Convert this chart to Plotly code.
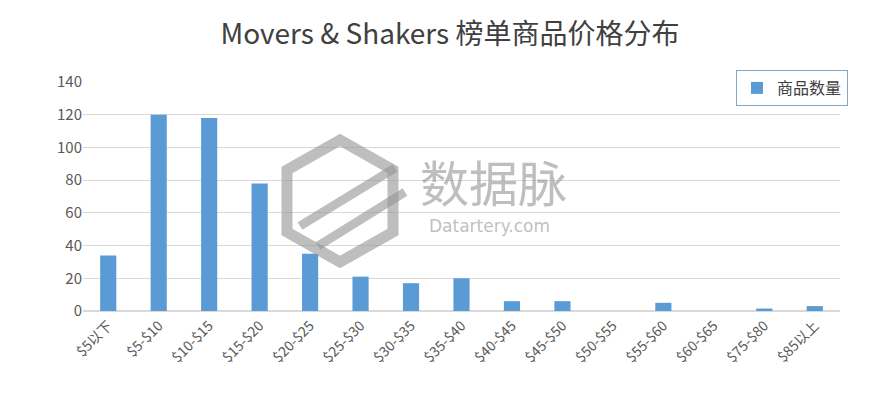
import plotly.graph_objects as go

categories = ["$5以下", "$5-$10", "$10-$15", "$15-$20", "$20-$25", "$25-$30", "$30-$35",
              "$35-$40", "$40-$45", "$45-$50", "$50-$55", "$55-$60", "$60-$65", "$75-$80", "$85以上"]
counts = [34, 120, 118, 78, 35, 21, 17, 20, 6, 6, 0, 5, 0, 1.5, 3]
series_name = "商品数量"
title_text = "Movers & Shakers 榜单商品价格分布"
y_ticks = [0, 20, 40, 60, 80, 100, 120, 140]

FONT = "Noto Sans CJK SC, Noto Sans, sans-serif"
WM = "rgba(150,150,150,0.62)"

# page body has an 8px offset; plot area intended at x 83..840, y 82..311 (window px)
L, T, R, B = 75, 74, 38, 97
PX0, PX1, PY0, PY1 = 83, 840, 82, 311


def px(x):
    return (x - PX0) / (PX1 - PX0)


def py(y):
    return (PY1 - y) / (PY1 - PY0)


fig = go.Figure()
fig.add_trace(go.Bar(
    x=categories, y=counts, name=series_name,
    marker=dict(color="#5b9bd5", line=dict(width=0)),
    showlegend=True,
))

fig.update_layout(
    width=870, height=400,
    margin=dict(l=L, r=R, t=T, b=B),
    paper_bgcolor="white", plot_bgcolor="white",
    bargap=0.68,
    title=dict(text=title_text, x=0.508, xanchor="center", y=0.935, yanchor="middle",
               font=dict(family=FONT, size=28, color="#404040")),
    font=dict(family=FONT, color="#595959"),
    legend=dict(x=px(848), xanchor="right", y=py(70), yanchor="top",
                bordercolor="#7fa7c9", borderwidth=1, bgcolor="white",
                font=dict(size=16, color="#404040"), itemwidth=30,
                tracegroupgap=0),
    xaxis=dict(tickangle=-45, tickfont=dict(size=14, color="#595959"),
               showline=True, linecolor="#d9d9d9", linewidth=1, ticks=""),
    yaxis=dict(range=[0, 140], tickvals=y_ticks, showgrid=True, gridcolor="#d9d9d9",
               gridwidth=1, zeroline=True, zerolinecolor="#d9d9d9",
               tickfont=dict(size=15, color="#595959"), ticks="", ticklen=0),
)

# watermark logo (hexagon + stripes)
hexpts = [(340, 140), (393, 170), (393, 232), (340, 262), (287, 232), (287, 170)]
path = "M " + " L ".join(f"{px(a):.4f},{py(b):.4f}" for a, b in hexpts) + " Z"
fig.add_shape(type="path", path=path, xref="paper", yref="paper",
              line=dict(color=WM, width=11), layer="above")
for (x0, y0, x1, y1) in [(300, 226, 395, 168), (318, 246, 405, 192)]:
    fig.add_shape(type="line", xref="paper", yref="paper",
                  x0=px(x0), y0=py(y0), x1=px(x1), y1=py(y1),
                  line=dict(color=WM, width=9), layer="above")

# watermark text
fig.add_annotation(text="数据脉", x=px(418), y=py(180), xref="paper", yref="paper",
                   showarrow=False, font=dict(family=FONT, size=49, color=WM),
                   xanchor="left", yanchor="middle")
fig.add_annotation(text="Datartery.com", x=px(427), y=py(226), xref="paper", yref="paper",
                   showarrow=False, font=dict(family="DejaVu Sans", size=17, color=WM),
                   xanchor="left", yanchor="middle")

fig.write_html("out.html")
